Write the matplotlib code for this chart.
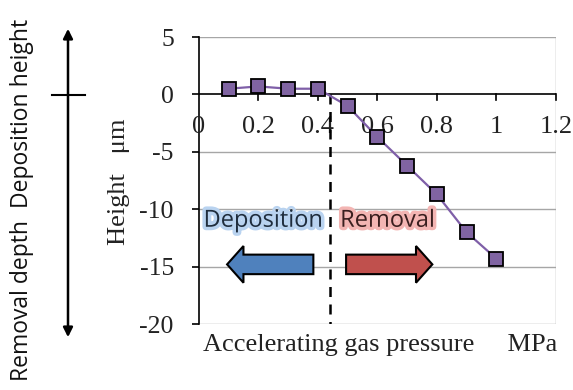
import matplotlib
matplotlib.use("Agg")
import matplotlib.pyplot as plt
from matplotlib.patches import FancyArrow
import matplotlib.patheffects as pe

pressure = [0.1, 0.2, 0.3, 0.4, 0.5, 0.6, 0.7, 0.8, 0.9, 1.0]
height = [0.5, 0.7, 0.5, 0.5, -1.0, -3.7, -6.2, -8.7, -12.0, -14.3]
xticks = [0, 0.2, 0.4, 0.6, 0.8, 1, 1.2]
xtick_labels = ["0", "0.2", "0.4", "0.6", "0.8", "1", "1.2"]
yticks = [5, 0, -5, -10, -15, -20]
boundary = 0.44

serif = "Liberation Serif"
sans = "Open Sans"

fig = plt.figure(figsize=(5.73, 3.90), dpi=100)
ax = fig.add_axes([0.347, 0.169, 0.623, 0.736])
ax.set_xlim(0, 1.2)
ax.set_ylim(-20, 5)

for yv in yticks:
    if yv != 0:
        ax.axhline(yv, color="#a6a6a6", lw=1.0, zorder=1)
ax.axvline(1.2, color="#a6a6a6", lw=1.0, zorder=1)
ax.axhline(0, color="black", lw=1.2, zorder=2)

for s in ["top", "right", "bottom"]:
    ax.spines[s].set_visible(False)
ax.spines["left"].set_color("black")
ax.spines["left"].set_linewidth(1.2)

ax.set_yticks(yticks)
ax.set_yticklabels([str(v) for v in yticks], fontfamily=serif, fontsize=18.5, color="#222222")
ax.tick_params(axis="y", direction="out", length=5, width=1.2, pad=13)
ax.set_xticks([])

for xv, lab in zip(xticks, xtick_labels):
    if xv > 0:
        ax.plot([xv, xv], [0, -0.5], color="black", lw=1.2, zorder=2, clip_on=False)
    ax.text(xv, -2.8, lab, ha="center", va="center", fontfamily=serif, fontsize=19, color="#222222")

ax.plot([boundary, boundary], [0, -20], color="black", lw=1.8, ls=(0, (4, 3)), zorder=3)

ax.plot(pressure, height, color="#7f5fa8", lw=1.6, marker="s", markersize=10,
        markerfacecolor="#8064a2", markeredgecolor="black", markeredgewidth=1.3, zorder=4)

ax.add_patch(FancyArrow(0.385, -14.8, -0.29, 0, width=1.7, head_width=3.2, head_length=0.055,
                        length_includes_head=True, facecolor="#4f81bd", edgecolor="black", lw=1.5, zorder=3))
ax.add_patch(FancyArrow(0.495, -14.8, 0.29, 0, width=1.7, head_width=3.2, head_length=0.055,
                        length_includes_head=True, facecolor="#c0504d", edgecolor="black", lw=1.5, zorder=3))
ax.text(0.016, -11.0, "Deposition", fontfamily=sans, fontsize=17, color="#1f2d3d", va="center", ha="left",
        path_effects=[pe.withStroke(linewidth=5, foreground="#b9d3f0")], zorder=5)
ax.text(0.475, -11.0, "Removal", fontfamily=sans, fontsize=17, color="#3a1f1f", va="center", ha="left",
        path_effects=[pe.withStroke(linewidth=5, foreground="#f3b5b3")], zorder=5)

fig.text(0.663, 0.115, "Accelerating gas pressure     MPa", fontfamily=serif, fontsize=19,
         ha="center", va="center", color="#222222")
fig.text(0.207, 0.535, "Height   \u03bcm", fontfamily=serif, fontsize=19, rotation=90,
         ha="center", va="center", color="#222222")

ax_left = fig.add_axes([0, 0, 1, 1], facecolor="none")
ax_left.set_xlim(0, 573)
ax_left.set_ylim(390, 0)
ax_left.axis("off")
ax_left.annotate("", xy=(68, 26), xytext=(68, 340),
                 arrowprops=dict(arrowstyle="<|-|>", color="black", lw=1.8, mutation_scale=14))
ax_left.plot([52, 85], [95, 95], color="black", lw=1.5)
ax_left.text(22, 200, "Removal depth  Deposition height", fontfamily=sans, fontsize=16.5,
             rotation=90, ha="center", va="center", color="#111111")

fig.savefig("out.png", dpi=100)
